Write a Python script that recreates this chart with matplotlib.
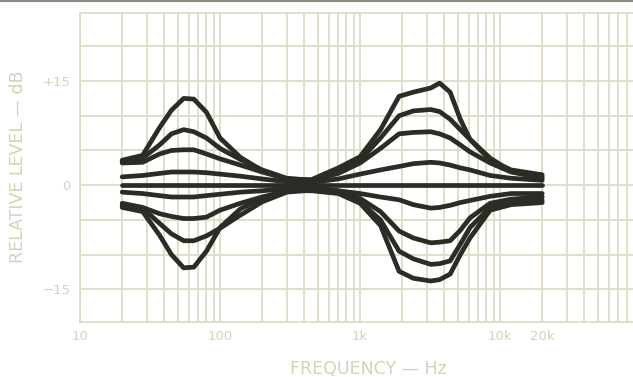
import numpy as np
import matplotlib.pyplot as plt
from matplotlib.ticker import FixedLocator, LogLocator, NullFormatter
from matplotlib.lines import Line2D

# frekvenser (Hz) der kurvene er avlest
freq = [20, 28, 37, 45, 55, 65, 80, 100, 140, 200, 300, 450, 700, 1000,
        1400, 1900, 2400, 3200, 3700, 4400, 5200, 6100, 8500, 12000, 20000]

# nivaa i dB, fra topp til bunn
boost_max = [3.6, 4.3, 8.3, 10.8, 12.5, 12.4, 10.5, 6.8, 4.0, 2.1, 0.9, 0.8, 2.5, 4.1,
             8.0, 12.8, 13.4, 14.0, 14.7, 13.4, 9.5, 6.6, 3.6, 2.2, 1.5]
boost_2 = [3.3, 3.9, 5.8, 7.4, 8.0, 7.7, 6.8, 5.3, 3.7, 2.2, 1.0, 0.7, 2.0, 3.6,
           6.8, 10.0, 10.7, 10.9, 10.6, 9.5, 8.0, 6.6, 3.9, 2.0, 1.2]
boost_3 = [3.2, 3.3, 4.5, 5.0, 5.1, 5.1, 4.5, 3.8, 2.9, 1.9, 0.9, 0.6, 1.7, 3.2,
           5.3, 7.4, 7.6, 7.7, 7.4, 6.8, 5.8, 4.8, 3.2, 1.9, 1.0]
boost_4 = [1.2, 1.4, 1.7, 1.9, 1.9, 1.9, 1.8, 1.6, 1.3, 0.9, 0.5, 0.4, 0.9, 1.6,
           2.2, 2.7, 3.1, 3.3, 3.2, 2.9, 2.5, 2.2, 1.4, 1.0, 0.7]
flat = [0.0] * len(freq)
cut_1 = [-1.0, -1.2, -1.5, -1.7, -1.7, -1.7, -1.5, -1.3, -1.0, -0.8, -0.5, -0.4, -0.8, -1.2,
         -1.7, -2.1, -2.8, -3.3, -3.2, -2.9, -2.5, -2.2, -1.6, -1.2, -1.2]
cut_2 = [-2.6, -3.2, -4.1, -4.5, -4.8, -4.8, -4.6, -3.6, -2.6, -1.7, -0.8, -0.6, -0.8, -1.9,
         -3.8, -6.6, -7.6, -8.3, -8.2, -8.0, -6.5, -4.7, -2.6, -2.0, -1.7]
cut_3 = [-2.9, -3.3, -5.5, -7.0, -8.0, -8.0, -7.3, -6.2, -4.3, -2.4, -1.0, -0.7, -1.0, -2.4,
         -5.0, -9.5, -10.6, -11.4, -11.3, -10.9, -8.5, -6.1, -3.2, -2.5, -2.2]
cut_max = [-3.2, -3.8, -7.2, -10.0, -11.9, -11.8, -9.5, -6.1, -3.4, -1.9, -0.8, -0.8, -1.2, -2.6,
           -5.8, -12.4, -13.4, -13.8, -13.6, -12.8, -10.0, -7.6, -3.6, -2.8, -2.5]

kurver = [boost_max, boost_2, boost_3, boost_4, flat, cut_1, cut_2, cut_3, cut_max]

x_ticks = [10, 100, 1000, 10000, 20000]
x_labels = ["10", "100", "1k", "10k", "20k"]
y_ticks = [-15, 0, 15]
y_labels = ["\u221215", "0", "+15"]

tekst = "#d3d3b9"
rutenett = "#dcdcc6"

fig = plt.figure(figsize=(6.33, 3.77), dpi=100)
ax = fig.add_axes([80/633, 1 - 322/377, 1 - 80/633, 309/377])

for k in kurver:
    ax.plot(freq, k, color="#2c2c26", lw=3.4, solid_joinstyle="round", solid_capstyle="round")

ax.set_xscale("log")
ax.set_xlim(10, 89000)
ax.set_ylim(-19.7, 24.8)

ax.xaxis.set_major_locator(FixedLocator(x_ticks))
ax.xaxis.set_minor_locator(LogLocator(base=10, subs=np.arange(2, 10)))
ax.xaxis.set_minor_formatter(NullFormatter())
ax.set_xticklabels(x_labels)
ax.yaxis.set_major_locator(FixedLocator(y_ticks))
ax.yaxis.set_minor_locator(FixedLocator([-10, -5, 5, 10, 20]))
ax.set_yticklabels(y_labels)

ax.grid(which="both", color=rutenett, lw=1.3)
ax.set_axisbelow(True)
ax.tick_params(which="both", length=0, colors=tekst, labelsize=9.5)
ax.tick_params(axis="x", pad=6)
ax.tick_params(axis="y", pad=7)
for s in ["left", "bottom", "top"]:
    ax.spines[s].set_color(rutenett)
    ax.spines[s].set_linewidth(1.3)
ax.spines["right"].set_visible(False)

fig.text(368/633, 1 - 369/377, "FREQUENCY \u2014 Hz", color=tekst, fontsize=12.5,
         ha="center", va="center")
fig.text(18/633, 1 - 167/377, "RELATIVE LEVEL \u2014 dB", color=tekst, fontsize=12.5,
         rotation=90, ha="center", va="center")

# mork kant oeverst fra skanningen
fig.add_artist(Line2D([0, 1], [0.997, 0.997], color="#8a8a82", lw=1.5))

fig.savefig("out.png", dpi=100)
